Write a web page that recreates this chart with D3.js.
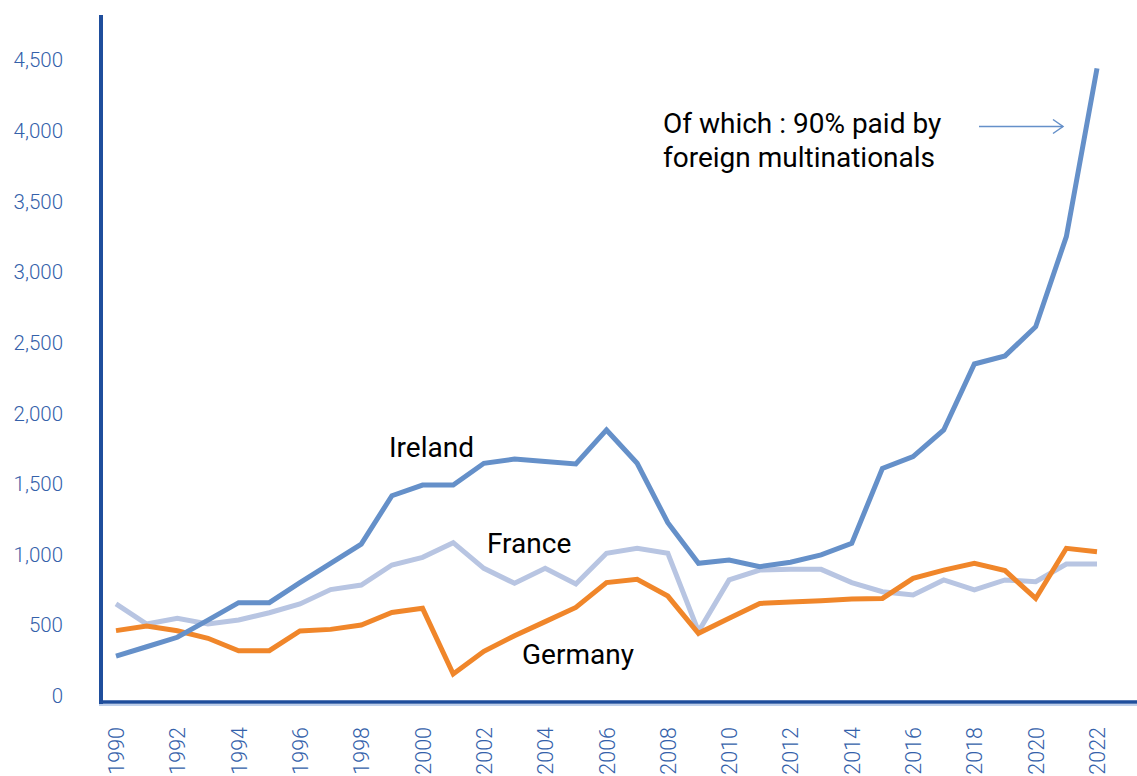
<!DOCTYPE html>
<html>
<head>
<meta charset="utf-8">
<script src="https://cdn.jsdelivr.net/npm/d3@7"></script>
<style>
  html, body { margin: 0; padding: 0; background: #ffffff; }
  #chart { width: 1137px; height: 776px; }
  text { font-family: Roboto, "Open Sans", sans-serif; }
</style>
</head>
<body>
<div id="chart"></div>
<script>
// Data
const years = d3.range(1990, 2023);
const ireland = [311, 377, 444, 566, 689, 689, 831, 968, 1104, 1446, 1522, 1522, 1676, 1706, 1688, 1671,
    1912, 1676, 1255, 968, 991, 944, 975, 1027, 1109, 1640, 1723, 1912, 2379, 2436, 2643, 3281, 4472];
const germany = [491, 524, 490, 437, 349, 349, 489, 500, 531, 620, 649, 184, 345, 455, 555, 655,
    831, 854, 736, 472, 578, 684, 694, 703, 715, 719, 861, 920, 968, 916, 719, 1074, 1050];
const france = [680, 538, 578, 538, 566, 618, 680, 782, 814, 956, 1010, 1114, 932, 826, 932, 821,
    1039, 1074, 1039, 485, 850, 920, 925, 925, 831, 767, 743, 850, 779, 850, 838, 963, 963];
const yTicks = [0, 500, 1000, 1500, 2000, 2500, 3000, 3500, 4000, 4500];
const xTicks = d3.range(1990, 2023, 2);

const width = 1137;
const height = 776;

const svg = d3.select('#chart')
    .append('svg')
    .attr('width', width)
    .attr('height', height);

// Scales
const x = d3.scaleLinear()
    .domain([1990, 2022])
    .range([116, 1097]);

const y = d3.scaleLinear()
    .domain([0, 4500])
    .range([700, 64.4]);

const axisColor = '#1f4e9c';
const labelColor = '#3461aa';

// Y axis labels
const yAxis = svg.append('g')
    .attr('transform', 'translate(101, -4)')
    .call(d3.axisLeft(y).tickValues(yTicks).tickSize(0).tickPadding(38).tickFormat(d3.format(',')));
yAxis.select('.domain').remove();
yAxis.selectAll('text')
    .style('font-size', '20.5px')
    .style('font-weight', 300)
    .style('fill', labelColor);

// X axis labels (rotated)
const xAxis = svg.append('g')
    .attr('transform', 'translate(0, 702)')
    .call(d3.axisBottom(x).tickValues(xTicks).tickSize(0).tickFormat(d3.format('d')));
xAxis.select('.domain').remove();
xAxis.selectAll('text')
    .attr('transform', 'rotate(-90)')
    .attr('text-anchor', 'end')
    .attr('x', -25)
    .attr('y', 0)
    .attr('dy', '0.35em')
    .style('font-size', '21.5px')
    .style('font-weight', 300)
    .style('fill', labelColor);

// Axis lines
svg.append('line')
    .attr('x1', 101).attr('x2', 101)
    .attr('y1', 15).attr('y2', 704)
    .attr('stroke', axisColor)
    .attr('stroke-width', 4);

svg.append('line')
    .attr('x1', 99).attr('x2', width)
    .attr('y1', 705).attr('y2', 705)
    .attr('stroke', '#a9bfe3')
    .attr('stroke-width', 1.5);

svg.append('line')
    .attr('x1', 99).attr('x2', width)
    .attr('y1', 702).attr('y2', 702)
    .attr('stroke', axisColor)
    .attr('stroke-width', 3.5);

// Lines
const line = d3.line()
    .x((d, i) => x(years[i]))
    .y(d => y(d));

const series = [
    { name: 'France', values: france, color: '#b8c5e2' },
    { name: 'Germany', values: germany, color: '#f0862a' },
    { name: 'Ireland', values: ireland, color: '#6590c9' }
];

svg.selectAll('path.series')
    .data(series)
    .enter()
    .append('path')
    .attr('class', 'series')
    .attr('fill', 'none')
    .attr('stroke', d => d.color)
    .attr('stroke-width', 5)
    .attr('stroke-linejoin', 'miter')
    .attr('d', d => line(d.values));

// Series labels
const labels = [
    { text: 'Ireland', x: 389, y: 457 },
    { text: 'France', x: 487, y: 553 },
    { text: 'Germany', x: 522, y: 664 }
];

svg.selectAll('text.series-label')
    .data(labels)
    .enter()
    .append('text')
    .attr('class', 'series-label')
    .attr('x', d => d.x)
    .attr('y', d => d.y)
    .style('font-size', '28px')
    .style('fill', '#000000')
    .text(d => d.text);

// Annotation
const note = svg.append('text')
    .attr('x', 663)
    .attr('y', 133)
    .style('font-size', '28px')
    .style('fill', '#000000');
note.append('tspan').attr('x', 663).text('Of which : 90% paid by');
note.append('tspan').attr('x', 663).attr('dy', 34).text('foreign multinationals');

// Arrow
svg.append('line')
    .attr('x1', 979).attr('x2', 1063)
    .attr('y1', 126.5).attr('y2', 126.5)
    .attr('stroke', '#6590c9')
    .attr('stroke-width', 1.5);

svg.append('path')
    .attr('d', 'M1053,119.5 L1063,126.5 L1053,133.5')
    .attr('fill', 'none')
    .attr('stroke', '#6590c9')
    .attr('stroke-width', 1.5);
</script>
</body>
</html>
